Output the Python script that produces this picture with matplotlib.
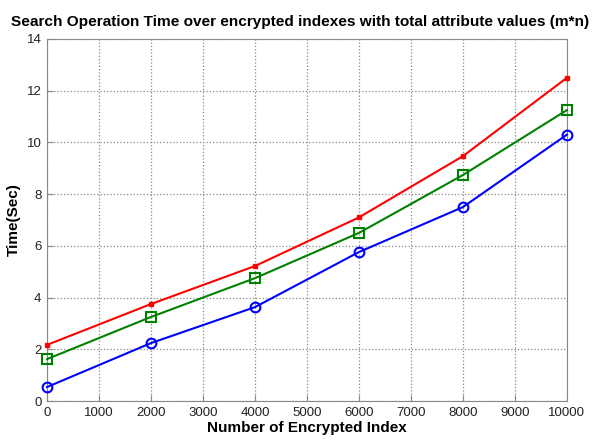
import matplotlib
matplotlib.use("Agg")
import matplotlib.pyplot as plt

plt.rcParams["font.family"] = ["Liberation Sans", "DejaVu Sans"]

n_index = [0, 2000, 4000, 6000, 8000, 10000]
time_red = [2.17, 3.75, 5.22, 7.1, 9.47, 12.5]
time_green = [1.62, 3.25, 4.75, 6.5, 8.74, 11.25]
time_blue = [0.54, 2.24, 3.63, 5.76, 7.5, 10.3]
x_ticks = list(range(0, 10001, 1000))
y_ticks = list(range(0, 15, 2))

fig = plt.figure(figsize=(5.98, 4.41), dpi=100)
ax = fig.add_axes([0.0786, 0.0907, 0.8694, 0.8209])

ax.plot(n_index, time_red, color="red", lw=1.5, marker="s", ms=3,
        mfc="red", mec="red", clip_on=False, zorder=3)
ax.plot(n_index, time_green, color="green", lw=1.5, marker="s", ms=7,
        mfc="none", mec="green", mew=1.5, clip_on=False, zorder=3)
ax.plot(n_index, time_blue, color="blue", lw=1.5, marker="o", ms=7,
        mfc="none", mec="blue", mew=1.5, clip_on=False, zorder=3)

ax.set_xlim(0, 10000)
ax.set_ylim(0, 14)
ax.set_xticks(x_ticks)
ax.set_yticks(y_ticks)
ax.grid(True, ls=":", color="#888888", lw=0.9)
for s in ax.spines.values():
    s.set_color("#888888")
ax.tick_params(colors="#888888", labelcolor="#222222", labelsize=9.5,
               direction="in", length=4, pad=4)

fig.text(0.502, 0.95,
         "Search Operation Time over encrypted indexes with total attribute values (m*n)",
         ha="center", va="center", fontsize=11.1, fontweight="bold")
ax.set_xlabel("Number of Encrypted Index", fontsize=11, fontweight="bold", labelpad=2)
ax.set_ylabel("Time(Sec)", fontsize=11, fontweight="bold", labelpad=4)

fig.savefig("out.png", dpi=100)
